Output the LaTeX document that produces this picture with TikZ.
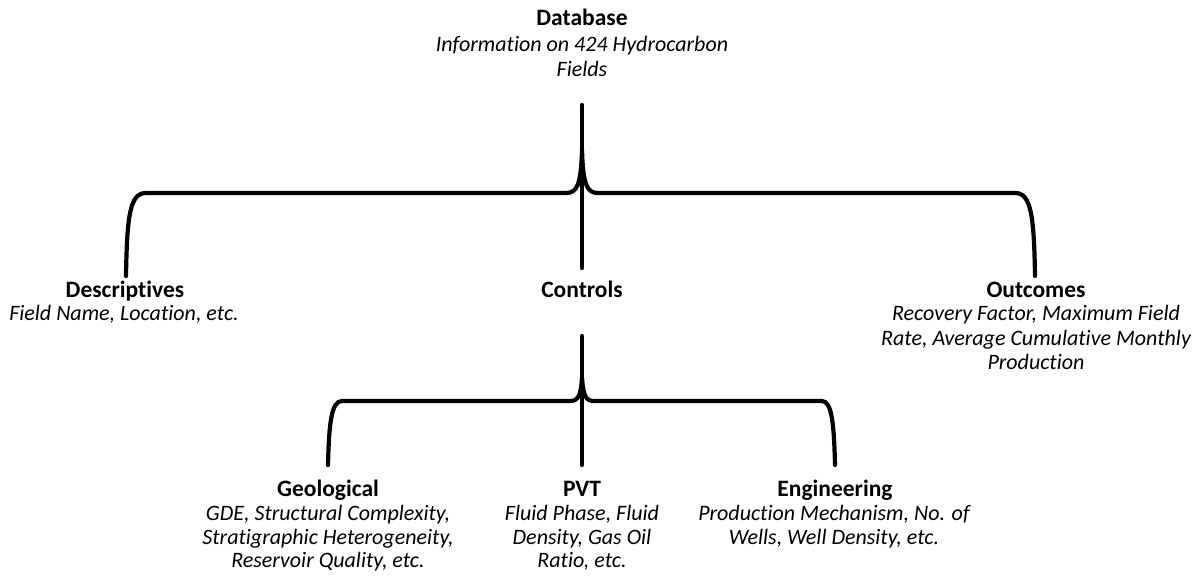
\documentclass[tikz,border=0pt]{standalone}
\usepackage{fontspec}
\setmainfont{Carlito}[Ligatures=NoCommon]
\begin{document}
\begin{tikzpicture}[x=1pt,y=-1pt,
  brace/.style={line width=4.2pt, line cap=round, line join=round},
  title/.style={font=\bfseries\fontsize{23.5}{26}\selectfont, inner sep=0pt, anchor=base},
  desc/.style={font=\itshape\fontsize{22}{24.5}\selectfont, align=center, inner sep=0pt, anchor=north}]
\useasboundingbox (0,0) rectangle (1194,580);
% labels
\node[title] (db) at (582,26) {Database};
\node[desc] (dbd) at (582,36.5) {Information on 424 Hydrocarbon\\Fields};
\node[title] (des) at (125,297) {Descriptives};
\node[desc] (desd) at (124,305.5) {Field Name, Location, etc.};
\node[title] (con) at (582,297) {Controls};
\node[title] (out) at (1036,297) {Outcomes};
\node[desc] (outd) at (1036,305.5) {Recovery Factor, Maximum Field\\Rate, Average Cumulative Monthly\\Production};
\node[title] (geo) at (328,496) {Geological};
\node[desc, font=\itshape\fontsize{22}{23.5}\selectfont] (geod) at (328,505.5) {GDE, Structural Complexity,\\Stratigraphic Heterogeneity,\\Reservoir Quality, etc.};
\node[title] (pvt) at (582,496) {PVT};
\node[desc, font=\itshape\fontsize{22}{23.5}\selectfont] (pvtd) at (582,505.5) {Fluid Phase, Fluid\\Density, Gas Oil\\Ratio, etc.};
\node[title] (eng) at (835,496) {Engineering};
\node[desc, font=\itshape\fontsize{22}{23.5}\selectfont] (engd) at (834,505.5) {Production Mechanism, No. of\\Wells, Well Density, etc.};
% brace 1 coordinates
\coordinate (s1) at (582,105);
\coordinate (k1) at (582,150);
\coordinate (a1l) at (126,276);
\coordinate (a1r) at (1035,276);
\coordinate (a1c) at (582,268);
% brace 2 coordinates
\coordinate (s2) at (582,336);
\coordinate (k2) at (582,377);
\coordinate (a2l) at (328,465);
\coordinate (a2r) at (835,465);
\coordinate (a2c) at (582,465);
% brace 1
\draw[brace] (s1) -- (a1c);
\draw[brace] (a1l) .. controls (127,215) and (130,193) .. (146,193) -- (566,193)
  .. controls (577,193) and (581,185) .. (k1)
  .. controls (583,185) and (587,193) .. (598,193) -- (1015,193)
  .. controls (1031,193) and (1034,215) .. (a1r);
% brace 2
\draw[brace] (s2) -- (a2c);
\draw[brace] (a2l) .. controls (329,425) and (331,401) .. (342,401) -- (570,401)
  .. controls (578,401) and (581,396) .. (k2)
  .. controls (583,396) and (586,401) .. (594,401) -- (822,401)
  .. controls (832,401) and (834,425) .. (a2r);
\end{tikzpicture}
\end{document}
